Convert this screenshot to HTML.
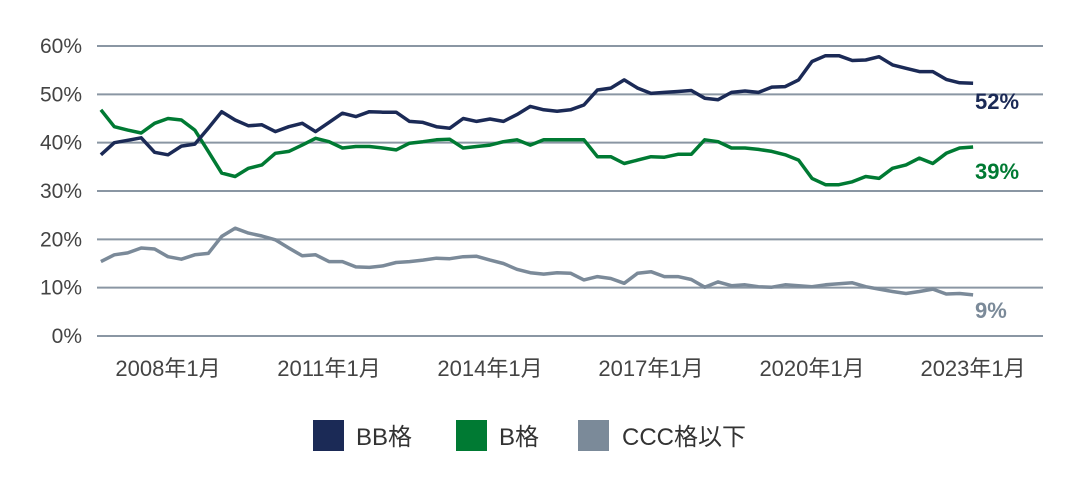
<!DOCTYPE html>
<html><head><meta charset="utf-8"><style>
body{margin:0;background:#fff;}
svg{display:block;font-family:"Liberation Sans","Noto Sans CJK JP",sans-serif;}
</style></head><body>
<svg id="chart" width="1076" height="480">
<g id="grid"></g><g id="lines"></g><g id="labels"></g>
<g>
<rect x="313" y="420" width="31" height="31" fill="#1b2a56"/>
<text x="356" y="445" font-size="24" fill="#333">BB格</text>
<rect x="456" y="420" width="31" height="31" fill="#007a33"/>
<text x="499" y="445" font-size="24" fill="#333">B格</text>
<rect x="578" y="420" width="31" height="31" fill="#7b8a99"/>
<text x="622" y="445" font-size="24" fill="#333">CCC格以下</text>
</g>
</svg>
<script>
const yTicks=[0,10,20,30,40,50,60];
const xTickYears=[2008,2011,2014,2017,2020,2023];
const startYear=2006.75;
const bb=[37.5,40,40.5,41,38,37.5,39.3,39.7,43,46.4,44.7,43.5,43.7,42.3,43.3,44,42.3,44.2,46.1,45.4,46.4,46.3,46.3,44.4,44.2,43.3,43,45,44.4,44.9,44.4,45.8,47.5,46.8,46.5,46.8,47.8,50.9,51.3,53,51.3,50.2,50.4,50.6,50.8,49.2,48.9,50.4,50.7,50.4,51.5,51.6,53,56.8,58,58,57,57.1,57.8,56.1,55.4,54.7,54.7,53.1,52.4,52.3];
const bgr=[46.8,43.3,42.6,42,44,45,44.7,42.6,38.2,33.7,33,34.7,35.4,37.8,38.2,39.5,40.9,40.2,38.9,39.2,39.2,38.9,38.5,39.9,40.2,40.6,40.7,38.9,39.2,39.5,40.2,40.6,39.5,40.6,40.6,40.6,40.6,37.1,37.1,35.7,36.4,37.1,37,37.6,37.6,40.6,40.2,38.9,38.9,38.6,38.2,37.5,36.4,32.6,31.3,31.3,31.9,33,32.6,34.7,35.4,36.8,35.7,37.8,38.9,39.1];
const ccc=[15.4,16.8,17.2,18.2,18,16.4,15.9,16.8,17.1,20.6,22.3,21.3,20.7,19.9,18.2,16.6,16.8,15.4,15.4,14.3,14.2,14.5,15.2,15.4,15.7,16.1,16,16.4,16.5,15.7,15,13.8,13.1,12.8,13.1,13,11.6,12.3,11.9,10.9,13,13.3,12.3,12.3,11.7,10.1,11.2,10.4,10.6,10.2,10.1,10.6,10.4,10.2,10.6,10.8,11,10.2,9.7,9.2,8.8,9.2,9.7,8.7,8.8,8.5];
const endLabels=["52%","39%","9%"];
const NS="http://www.w3.org/2000/svg";
const yS=v=>336-v*4.833;
const xS=t=>168+(t-2008)*53.67;
const grid=document.getElementById('grid'),lines=document.getElementById('lines'),labels=document.getElementById('labels');
yTicks.forEach(v=>{
 const l=document.createElementNS(NS,'line');
 l.setAttribute('x1',97);l.setAttribute('x2',1043);l.setAttribute('y1',yS(v));l.setAttribute('y2',yS(v));
 l.setAttribute('stroke','#8a96a3');l.setAttribute('stroke-width','2');
 
 
 grid.appendChild(l);
 const t=document.createElementNS(NS,'text');
 t.setAttribute('x',82);t.setAttribute('y',yS(v)+7);t.setAttribute('text-anchor','end');
 t.setAttribute('font-size','21');t.setAttribute('fill','#444');t.textContent=v+'%';
 
 
 grid.appendChild(t);
});
xTickYears.forEach(y=>{
 const t=document.createElementNS(NS,'text');
 t.setAttribute('x',xS(y));t.setAttribute('y',376);t.setAttribute('text-anchor','middle');
 t.setAttribute('font-size','22');t.setAttribute('fill','#444');t.textContent=y+'年1月';
 
 
 grid.appendChild(t);
});
function drawSeries(arr,color,name,label,ly){
 const p=document.createElementNS(NS,'polyline');
 p.setAttribute('points',arr.map((v,i)=>xS(startYear+i*0.25).toFixed(1)+','+yS(v).toFixed(1)).join(' '));
 p.setAttribute('fill','none');p.setAttribute('stroke',color);p.setAttribute('stroke-width','3.5');p.setAttribute('stroke-linejoin','round');
 
 
 lines.appendChild(p);
 const t=document.createElementNS(NS,'text');
 t.setAttribute('x',975);t.setAttribute('y',ly);t.setAttribute('font-size','22');t.setAttribute('font-weight','bold');t.setAttribute('fill',color);
 t.textContent=label;
 
 
 labels.appendChild(t);
}
drawSeries(ccc,'#7b8a99','ccc',endLabels[2],318);
drawSeries(bgr,'#007a33','b',endLabels[1],179);
drawSeries(bb,'#1b2a56','bb',endLabels[0],109);
</script>
</body></html>
